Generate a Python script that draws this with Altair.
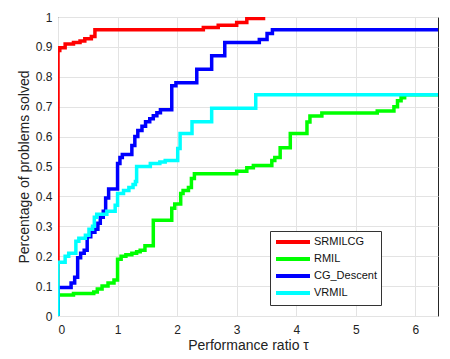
import altair as alt
import pandas as pd

series = ["SRMILCG", "RMIL", "CG_Descent", "VRMIL"]
colors = ["#ff0000", "#00ff00", "#0000ff", "#00ffff"]

srmilcg_x = [0, 0, 0.03, 0.12, 0.26, 0.37, 0.45, 0.56, 0.62, 2.44, 2.69, 3.0, 3.17, 3.48]
srmilcg_y = [0, 0.888, 0.897, 0.91, 0.915, 0.92, 0.927, 0.935, 0.957, 0.965, 0.972, 0.982, 0.995, 0.995]

rmil_x = [0, 0, 0.26, 0.6, 0.66, 0.74, 0.84, 0.94, 1.0, 1.06, 1.14, 1.24, 1.32, 1.38, 1.46,
          1.6, 1.91, 1.96, 2.06, 2.1, 2.19, 2.24, 2.29, 3.0, 3.17, 3.28, 3.59, 3.64, 3.73,
          3.9, 4.18, 4.23, 4.43, 5.36, 5.64, 5.7, 5.76, 5.82, 6.38]
rmil_y = [0, 0.07, 0.075, 0.08, 0.09, 0.1, 0.11, 0.12, 0.19, 0.2, 0.205, 0.21, 0.215, 0.22, 0.235,
          0.32, 0.36, 0.375, 0.41, 0.42, 0.43, 0.46, 0.476, 0.484, 0.496, 0.503, 0.52, 0.53, 0.563,
          0.61, 0.649, 0.669, 0.679, 0.686, 0.7, 0.72, 0.73, 0.74, 0.74]

cgd_x = [0, 0, 0.22, 0.28, 0.33, 0.38, 0.44, 0.49, 0.55, 0.62, 0.67, 0.71, 0.76, 0.8, 0.85,
         1.0, 1.04, 1.08, 1.24, 1.29, 1.34, 1.41, 1.47, 1.54, 1.6, 1.66, 1.72, 1.91, 1.98,
         2.33, 2.58, 2.8, 3.38, 3.51, 3.6, 6.38]
cgd_y = [0, 0.095, 0.11, 0.13, 0.195, 0.21, 0.22, 0.265, 0.28, 0.29, 0.31, 0.33, 0.35, 0.395, 0.425,
         0.51, 0.53, 0.54, 0.57, 0.6, 0.62, 0.635, 0.65, 0.66, 0.67, 0.68, 0.69, 0.77, 0.78,
         0.825, 0.87, 0.915, 0.925, 0.945, 0.957, 0.957]

vrmil_x = [0, 0, 0.12, 0.18, 0.3, 0.35, 0.46, 0.52, 0.58, 0.61, 0.65, 0.82, 0.96, 1.0, 1.1,
           1.19, 1.26, 1.3, 1.32, 1.55, 1.71, 1.8, 2.01, 2.05, 2.25, 2.58, 3.32, 6.38]
vrmil_y = [0, 0.18, 0.2, 0.21, 0.25, 0.26, 0.27, 0.29, 0.3, 0.33, 0.34, 0.35, 0.37, 0.41, 0.42,
           0.43, 0.44, 0.45, 0.5, 0.51, 0.515, 0.52, 0.56, 0.61, 0.65, 0.695, 0.74, 0.74]

x_ticks = [0, 1, 2, 3, 4, 5, 6]
y_ticks = [0, 0.1, 0.2, 0.3, 0.4, 0.5, 0.6, 0.7, 0.8, 0.9, 1.0]

rows = []
for name, xs, ys in [("SRMILCG", srmilcg_x, srmilcg_y), ("RMIL", rmil_x, rmil_y),
                     ("CG_Descent", cgd_x, cgd_y), ("VRMIL", vrmil_x, vrmil_y)]:
    for i, (x, y) in enumerate(zip(xs, ys)):
        rows.append({"series": name, "tau": x, "rho": y, "idx": i})
df = pd.DataFrame(rows)

font = "Liberation Sans"

chart = alt.Chart(df).mark_line(interpolate="step-after", strokeWidth=3.5, clip=True).encode(
    x=alt.X("tau:Q",
            scale=alt.Scale(domain=[0, 6.38], nice=False, zero=False),
            axis=alt.Axis(values=x_ticks, title="Performance ratio τ", format="d",
                          titleFontSize=14, titleFontWeight="normal", titlePadding=3,
                          labelFontSize=12, labelPadding=8, ticks=False, domain=False,
                          labelColor="#222", titleColor="#222")),
    y=alt.Y("rho:Q",
            scale=alt.Scale(domain=[0, 1], nice=False),
            axis=alt.Axis(values=y_ticks, title="Percentage of problems solved", format="~g",
                          titleFontSize=14, titleFontWeight="normal", titlePadding=4,
                          labelFontSize=12, labelPadding=6, ticks=False, domain=False,
                          labelColor="#222", titleColor="#222")),
    color=alt.Color("series:N", sort=series,
                    scale=alt.Scale(domain=series, range=colors),
                    legend=alt.Legend(title=None, orient="none", legendX=212, legendY=214,
                                      symbolType="M-3.4,0H3.4", symbolSize=100,
                                      symbolStrokeWidth=4, symbolOffset=12,
                                      labelFontSize=11, labelColor="#111", padding=4,
                                      rowPadding=1, strokeColor="#333", fillColor="white",
                                      labelOffset=14)),
    order=alt.Order("idx:Q"),
).properties(
    width=380, height=299,
    autosize=alt.AutoSizeParams(type="none"),
    padding={"left": 50, "top": 9, "right": 4, "bottom": 44},
).configure_view(
    stroke="#262626", strokeWidth=1
).configure_axis(
    gridColor="#e3e3e3", labelFont=font, titleFont=font
).configure_legend(
    labelFont=font
)

chart.save("out.html", embed_options={"renderer": "svg", "actions": False})
